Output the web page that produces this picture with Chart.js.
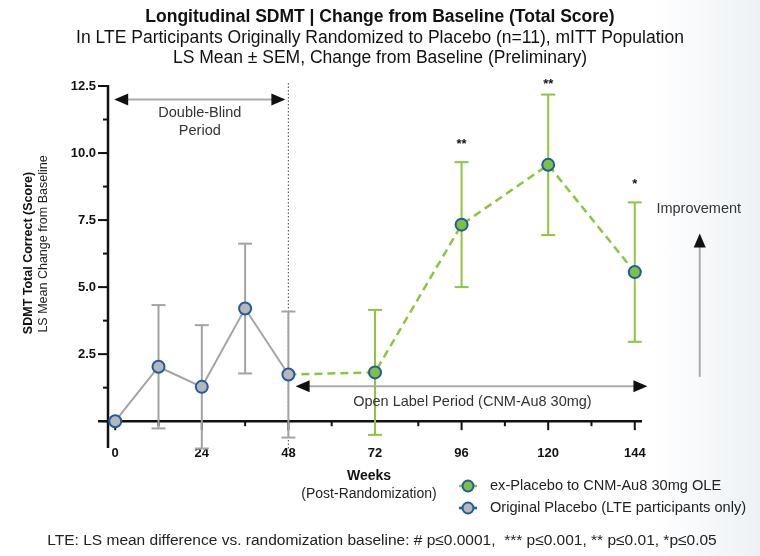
<!DOCTYPE html>
<html>
<head>
<meta charset="utf-8">
<title>Longitudinal SDMT</title>
<script src="https://cdn.jsdelivr.net/npm/chart.js@4.4.1/dist/chart.umd.min.js"></script>
<style>
  html, body { margin: 0; padding: 0; }
  body { width: 760px; height: 556px; overflow: hidden;
         background: linear-gradient(90deg, #ffffff 0%, #ffffff 86%, #edf1f5 100%); }
</style>
</head>
<body>
<canvas id="sdmtChart" width="760" height="556"></canvas>
<script>
// Weeks post-randomization
const weeksPlacebo = [0, 12, 24, 36, 48];
const weeksOle = [48, 72, 96, 120, 144];

// LS mean change from baseline and SEM
const placeboMean = [0, 2.03, 1.28, 4.2, 1.74];
const placeboSem = [0, 2.3, 2.3, 2.42, 2.35];
const oleMean = [1.74, 1.82, 7.33, 9.56, 5.56];
const oleSem = [0, 2.33, 2.33, 2.62, 2.6];
const oleSig = ['', '', '**', '**', '*'];

// Axis ticks
const xTicks = [0, 24, 48, 72, 96, 120, 144];
const xMinor = [12, 36, 60, 84, 108, 132];
const yTicks = [2.5, 5, 7.5, 10, 12.5];
const yMinor = [0, 1.25, 3.75, 6.25, 8.75, 11.25];

const FONT = "'Liberation Sans', Arial, sans-serif";
Chart.defaults.font.family = FONT;

const GREEN = '#8cc63f';
const GREEN_FILL = '#7cc242';
const GREY = '#a3a3a3';
const GREY_FILL = '#b7b7b7';
const BLUE = '#1f5aa6';

function line(ctx, x1, y1, x2, y2) {
    ctx.beginPath();
    ctx.moveTo(x1, y1);
    ctx.lineTo(x2, y2);
    ctx.stroke();
}

function arrowHead(ctx, x, y, dir) {
    // dir: 'left', 'right', 'up'
    ctx.beginPath();
    if (dir === 'left') { ctx.moveTo(x, y); ctx.lineTo(x + 14, y - 6); ctx.lineTo(x + 14, y + 6); }
    if (dir === 'right') { ctx.moveTo(x, y); ctx.lineTo(x - 14, y - 6); ctx.lineTo(x - 14, y + 6); }
    if (dir === 'up') { ctx.moveTo(x, y); ctx.lineTo(x - 6, y + 14); ctx.lineTo(x + 6, y + 14); }
    ctx.closePath();
    ctx.fill();
}

function text(ctx, str, x, y, font, color, align) {
    ctx.font = font;
    ctx.fillStyle = color || '#222';
    ctx.textAlign = align || 'center';
    ctx.textBaseline = 'middle';
    ctx.fillText(str, x, y);
}

// Axes, error bars and annotations
const overlay = {
    id: 'overlay',
    beforeDatasetsDraw(chart) {
        const {ctx, chartArea: a, scales: {x, y}} = chart;
        const y0 = y.getPixelForValue(0);
        ctx.save();

        // end of double-blind period
        ctx.strokeStyle = '#666';
        ctx.lineWidth = 1.2;
        ctx.setLineDash([1.5, 2]);
        const x48 = x.getPixelForValue(48);
        line(ctx, x48, a.top - 3, x48, a.bottom + 2);
        ctx.setLineDash([]);

        // axes
        ctx.strokeStyle = '#111';
        ctx.lineWidth = 2.5;
        line(ctx, a.left, a.top - 1, a.left, a.bottom);
        line(ctx, a.left - 10, y0, a.right, y0);
        ctx.lineWidth = 2;
        yTicks.forEach(v => { const p = y.getPixelForValue(v); line(ctx, a.left - 10, p, a.left, p); });
        yMinor.forEach(v => { const p = y.getPixelForValue(v); line(ctx, a.left - 5, p, a.left, p); });
        xTicks.forEach(v => { const p = x.getPixelForValue(v); line(ctx, p, y0, p, y0 + 9); });
        xMinor.forEach(v => { const p = x.getPixelForValue(v); line(ctx, p, y0, p, y0 + 5); });

        // error bars
        const bars = (weeks, mean, sem, color) => {
            ctx.strokeStyle = color;
            ctx.lineWidth = 2;
            weeks.forEach((w, i) => {
                if (!sem[i]) return;
                const px = x.getPixelForValue(w);
                const hi = y.getPixelForValue(mean[i] + sem[i]);
                const lo = y.getPixelForValue(mean[i] - sem[i]);
                line(ctx, px, hi, px, lo);
                line(ctx, px - 7, hi, px + 7, hi);
                line(ctx, px - 7, lo, px + 7, lo);
            });
        };
        bars(weeksPlacebo, placeboMean, placeboSem, GREY);
        bars(weeksOle, oleMean, oleSem, GREEN);
        ctx.restore();
    },
    afterDraw(chart) {
        const {ctx, chartArea: a, scales: {x, y}} = chart;
        ctx.save();

        // significance markers
        ctx.font = 'bold 13px ' + FONT;
        ctx.fillStyle = '#111';
        ctx.textAlign = 'center';
        ctx.textBaseline = 'alphabetic';
        weeksOle.forEach((w, i) => {
            if (!oleSig[i]) return;
            const top = y.getPixelForValue(oleMean[i] + oleSem[i]);
            ctx.fillText(oleSig[i], x.getPixelForValue(w), Math.max(top - 14, a.top + 2));
        });

        // period arrows
        ctx.strokeStyle = '#aaa';
        ctx.fillStyle = '#111';
        ctx.lineWidth = 2;
        const dbY = y.getPixelForValue(12);
        const dbL = x.getPixelForValue(0) - 1, dbR = x.getPixelForValue(48) - 3;
        line(ctx, dbL + 10, dbY, dbR - 10, dbY);
        arrowHead(ctx, dbL, dbY, 'left');
        arrowHead(ctx, dbR, dbY, 'right');
        text(ctx, 'Double-Blind', (dbL + dbR) / 2, dbY + 14, '14.5px ' + FONT, '#333');
        text(ctx, 'Period', (dbL + dbR) / 2, dbY + 32, '14.5px ' + FONT, '#333');

        const olY = y.getPixelForValue(1.3);
        const olL = x.getPixelForValue(50), olR = x.getPixelForValue(147.5);
        ctx.strokeStyle = '#aaa';
        line(ctx, olL + 10, olY, olR - 10, olY);
        ctx.fillStyle = '#111';
        arrowHead(ctx, olL, olY, 'left');
        arrowHead(ctx, olR, olY, 'right');
        text(ctx, 'Open Label Period (CNM-Au8 30mg)', x.getPixelForValue(99), olY + 16, '14.5px ' + FONT, '#333');

        // improvement arrow
        const imX = x.getPixelForValue(162);
        ctx.strokeStyle = '#aaa';
        line(ctx, imX, y.getPixelForValue(1.65), imX, y.getPixelForValue(6.8));
        ctx.fillStyle = '#111';
        arrowHead(ctx, imX, y.getPixelForValue(7.0), 'up');
        text(ctx, 'Improvement', imX - 1, y.getPixelForValue(7.9), '14.5px ' + FONT, '#333');

        // titles
        text(ctx, 'Longitudinal SDMT | Change from Baseline (Total Score)', 380, 17, 'bold 17.5px ' + FONT, '#111');
        text(ctx, 'In LTE Participants Originally Randomized to Placebo (n=11), mITT Population', 380, 38, '17.5px ' + FONT, '#111');
        text(ctx, 'LS Mean \u00b1 SEM, Change from Baseline (Preliminary)', 380, 58, '17.5px ' + FONT, '#111');

        // axis titles
        ctx.save();
        ctx.translate(29, 253);
        ctx.rotate(-Math.PI / 2);
        text(ctx, 'SDMT Total Correct (Score)', 0, 0, 'bold 12.5px ' + FONT, '#111');
        ctx.restore();
        ctx.save();
        ctx.translate(44, 244);
        ctx.rotate(-Math.PI / 2);
        text(ctx, 'LS Mean Change from Baseline', 0, 0, '12.5px ' + FONT, '#222');
        ctx.restore();

        text(ctx, 'Weeks', 369, 476, 'bold 14px ' + FONT, '#111');
        text(ctx, '(Post-Randomization)', 369, 494, '14px ' + FONT, '#222');

        // legend
        const items = [chart.data.datasets[1], chart.data.datasets[0]];
        items.forEach((ds, i) => {
            const lx = 468, ly = 486 + i * 22;
            ctx.strokeStyle = i === 0 ? ds.borderColor : BLUE;
            ctx.lineWidth = 2.5;
            line(ctx, lx - 9, ly, lx + 9, ly);
            ctx.beginPath();
            ctx.arc(lx, ly, 5.5, 0, Math.PI * 2);
            ctx.fillStyle = ds.pointBackgroundColor;
            ctx.fill();
            ctx.lineWidth = 2;
            ctx.strokeStyle = ds.pointBorderColor;
            ctx.stroke();
            text(ctx, ds.label, lx + 22, ly, '14.6px ' + FONT, '#222', 'left');
        });

        // footnote
        text(ctx, 'LTE: LS mean difference vs. randomization baseline: # p\u22640.0001,  *** p\u22640.001, ** p\u22640.01, *p\u22640.05',
            382, 541, '15.5px ' + FONT, '#222');
        ctx.restore();
    }
};

const data = {
    datasets: [{
        label: 'Original Placebo (LTE participants only)',
        data: weeksPlacebo.map((w, i) => ({x: w, y: placeboMean[i]})),
        borderColor: GREY,
        borderWidth: 2,
        pointBackgroundColor: GREY_FILL,
        pointBorderColor: BLUE,
        pointBorderWidth: 2,
        pointRadius: 6,
        order: 0
    }, {
        label: 'ex-Placebo to CNM-Au8 30mg OLE',
        data: weeksOle.map((w, i) => ({x: w, y: oleMean[i]})),
        borderColor: GREEN,
        borderWidth: 2.5,
        borderDash: [8, 5],
        pointBackgroundColor: GREEN_FILL,
        pointBorderColor: BLUE,
        pointBorderWidth: 2,
        pointRadius: ctx => ctx.dataIndex === 0 ? 0 : 6,
        order: 1
    }]
};

const config = {
    type: 'line',
    data: data,
    options: {
        responsive: false,
        animation: false,
        layout: { padding: { top: 86, left: 0, right: 118, bottom: 0 } },
        plugins: {
            legend: { display: false },
            tooltip: { enabled: false }
        },
        scales: {
            x: {
                type: 'linear',
                min: -2,
                max: 146,
                grid: { display: false, drawTicks: false },
                border: { display: false },
                ticks: { font: { size: 13, weight: 'bold' }, color: '#111', padding: -2, maxRotation: 0 },
                afterBuildTicks: s => { s.ticks = xTicks.map(v => ({value: v})); },
                afterFit: s => { s.height = 108; }
            },
            y: {
                type: 'linear',
                min: -1,
                max: 12.5,
                grid: { display: false, drawTicks: false },
                border: { display: false },
                ticks: { font: { size: 13, weight: 'bold' }, color: '#111', padding: 12,
                         callback: v => v.toFixed(1) },
                afterBuildTicks: s => { s.ticks = yTicks.map(v => ({value: v})); },
                afterFit: s => { s.width = 108; }
            }
        }
    },
    plugins: [overlay]
};

window.onload = function() {
    const ctx = document.getElementById('sdmtChart').getContext('2d');
    new Chart(ctx, config);
};
</script>
</body>
</html>
